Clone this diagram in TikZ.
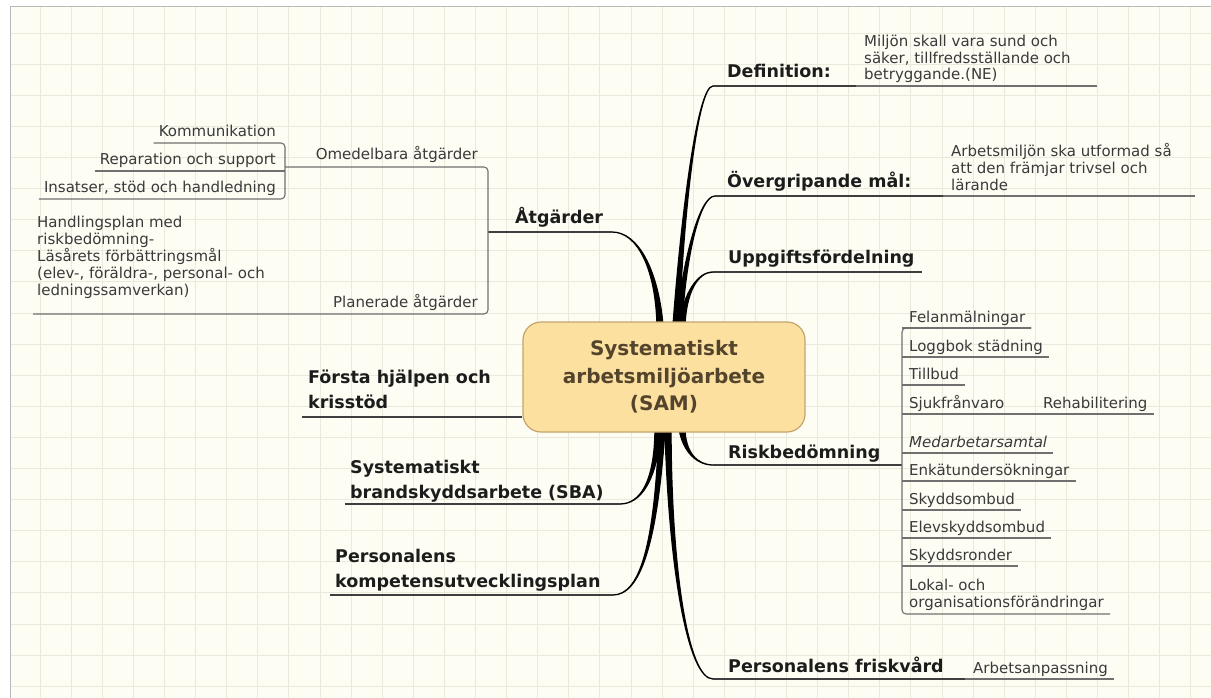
\documentclass[tikz,border=0pt]{standalone}
\usepackage{fontspec}
\setmainfont{DejaVu Sans}[ItalicFont={DejaVu Sans Oblique},BoldFont={DejaVu Sans Bold},BoldItalicFont={DejaVu Sans Bold Oblique}]
\usetikzlibrary{calc}

\definecolor{paper}{RGB}{253,253,244}
\definecolor{gridc}{RGB}{233,233,220}
\definecolor{boxfill}{RGB}{252,224,160}
\definecolor{boxline}{RGB}{196,164,108}
\definecolor{samtext}{RGB}{84,68,44}
\definecolor{inkc}{RGB}{28,28,28}
\definecolor{notec}{RGB}{58,58,58}
\definecolor{linec}{RGB}{112,112,112}

\pgfdeclarelayer{paperlayer}
\pgfdeclarelayer{stems}
\pgfsetlayers{paperlayer,stems,main}

\tikzset{
 topic/.style={font=\fontsize{17.5}{25}\selectfont\bfseries, text=inkc, inner sep=0pt, anchor=base west, align=left},
 leaf/.style={font=\fontsize{15}{16.8}\selectfont, text=notec, inner sep=0pt, anchor=base west, align=left},
 uline/.style={draw=linec, line width=1.1pt, rounded corners=4pt},
 mline/.style={draw=inkc!85, line width=1.4pt},
 limb/.style={fill=black, draw=black, line width=1.3pt, line join=round},
}

% tapered main branch: base, control 1, control 2, end
\newcommand\branchcurve[4]{%
 \filldraw[limb] ($(#1)+(-3,0)$) .. controls ($(#2)+(-1.2,0)$) and (#3) .. (#4)
   .. controls (#3) and ($(#2)+(1.2,0)$) .. ($(#1)+(3,0)$) -- cycle;}

\begin{document}
\begin{tikzpicture}[x=1pt,y=-1pt]
 \useasboundingbox (0,0) rectangle (1211,698);
 \begin{pgfonlayer}{paperlayer}
 \fill[white] (0,0) rectangle (1211,698);
 \fill[paper] (10,7) rectangle (1211,698);
 \foreach \x in {0,...,37}
 {
     \draw[gridc, line width=0.8pt] (40+31.1*\x,7) -- (40+31.1*\x,698);
 }
 \foreach \y in {0,...,21}
 {
     \draw[gridc, line width=0.8pt] (10,33+31.1*\y) -- (1211,33+31.1*\y);
 }
 \draw[gray!55, line width=1pt] (10,698) -- (10,7) -- (1211,7);
 \end{pgfonlayer}

 % centre
 \node[draw=boxline, fill=boxfill, line width=1.2pt, rounded corners=18pt, minimum width=282pt, minimum height=110pt, align=center, text=samtext, font=\fontsize{20}{27.5}\selectfont\bfseries] (sam) at (664,377) {Systematiskt\\arbetsmiljöarbete\\(SAM)};

 \coordinate (sdef) at ($(sam.north)+(12,4)$);
 \coordinate (sovr) at ($(sam.north)+(15,4)$);
 \coordinate (supp) at ($(sam.north)+(18,4)$);
 \coordinate (satg) at ($(sam.north)+(-4,4)$);
 \coordinate (srisk) at ($(sam.south)+(18,-4)$);
 \coordinate (sfrisk) at ($(sam.south)+(4,-4)$);
 \coordinate (ssba) at ($(sam.south)+(-6,-4)$);
 \coordinate (skomp) at ($(sam.south)+(-2,-4)$);

 % right side
 \coordinate (def-a) at (713,86);
 \coordinate (def-b) at (856,86);
 \node[topic] (def) at (727,78) {Definition:};
 \node[leaf] (defnote) at (864,80) {Miljön skall vara sund och\\säker, tillfredsställande och\\betryggande.(NE)};
 \coordinate (defnote-b) at (1097,86);
 \draw[mline] (def-a) -- (def-b);
 \draw[uline] (def-b) -- (defnote-b);

 \coordinate (ovr-a) at (715,196);
 \coordinate (ovr-b) at (943,196);
 \node[topic] (ovr) at (727,188) {Övergripande mål:};
 \node[leaf] (ovrnote) at (951,190) {Arbetsmiljön ska utformad så\\att den främjar trivsel och\\lärande};
 \coordinate (ovrnote-b) at (1195,196);
 \draw[mline] (ovr-a) -- (ovr-b);
 \draw[uline] (ovr-b) -- (ovrnote-b);

 \coordinate (upp-a) at (713,272);
 \node[topic] (upp) at (728,263) {Uppgiftsfördelning};
 \draw[mline] (upp-a) -- ([shift={(7,9)}]upp.base east);

 \coordinate (risk-a) at (713,465);
 \coordinate (risk-b) at (902,465);
 \node[topic] (risk) at (728,458) {Riskbedömning};
 \draw[mline] (risk-a) -- (risk-b);
 \foreach \nm/\yy/\txt in {felan/322/Felanmälningar, logg/351/Loggbok städning, till/379/Tillbud, enkat/475/Enkätundersökningar, skydd/504/Skyddsombud, elev/532/Elevskyddsombud, ronder/560/Skyddsronder}
 {
     \node[leaf] (\nm) at (909,\yy) {\txt};
     \draw[uline] ([shift={(-7,6)}]\nm.base west) -- ([shift={(6,6)}]\nm.base east);
 }
 \node[leaf] (medarb) at (909,447) {\itshape Medarbetarsamtal};
 \draw[uline] ([shift={(-7,6)}]medarb.base west) -- ([shift={(6,6)}]medarb.base east);
 \node[leaf] (sjuk) at (909,408) {Sjukfrånvaro};
 \coordinate (sjuk-b) at (1034,414);
 \node[leaf] (rehab) at (1043,408) {Rehabilitering};
 \draw[uline] ([shift={(-7,6)}]sjuk.base west) -- (sjuk-b);
 \draw[uline] (sjuk-b) -- ([shift={(6,6)}]rehab.base east);
 \node[leaf] (lokal) at (909,607) {Lokal- och\\organisationsförändringar};
 \coordinate (rtop) at (902,328);
 \coordinate (rbot) at (902,614);
 \draw[uline] ([shift={(6,6)}]felan.base east) -- (rtop) -- (rbot) -- ([shift={(6,7)}]lokal.base east);

 \coordinate (frisk-a) at (713,679);
 \coordinate (frisk-b) at (965,679);
 \node[topic] (frisk) at (728,672) {Personalens friskvård};
 \node[leaf] (arb) at (973,673) {Arbetsanpassning};
 \draw[mline] (frisk-a) -- (frisk-b);
 \draw[uline] (frisk-b) -- ([shift={(6,6)}]arb.base east);

 % left side
 \coordinate (atg-a) at (488,232);
 \coordinate (atg-b) at (612,232);
 \node[topic] (atg) at (515,223) {Åtgärder};
 \draw[mline] (atg-a) -- (atg-b);
 \coordinate (ltop) at (488,167);
 \coordinate (lbot) at (488,314);
 \coordinate (omed-l) at (285,167);
 \coordinate (plan-l) at (33,314);
 \node[leaf, anchor=base east] (omed) at (478,160) {Omedelbara åtgärder};
 \node[leaf, anchor=base east] (plan) at (478,307) {Planerade åtgärder};
 \draw[uline] (omed-l) -- (ltop) -- (lbot) -- (plan-l);
 \node[leaf] (hand) at (37,295) {Handlingsplan med\\riskbedömning-\\Läsårets förbättringsmål\\(elev-, föräldra-, personal- och\\ledningssamverkan)};

 \coordinate (otop) at (285,143);
 \coordinate (obot) at (285,199);
 \coordinate (rep-r) at (285,171);
 \node[leaf, anchor=base east] (komm) at (276,137) {Kommunikation};
 \node[leaf, anchor=base east] (rep) at (276,165) {Reparation och support};
 \node[leaf, anchor=base east] (ins) at (276,193) {Insatser, stöd och handledning};
 \draw[uline] ([shift={(-5,6)}]komm.base west) -- (otop) -- (obot) -- ([shift={(-5,6)}]ins.base west);
 \draw[uline] ([shift={(-5,6)}]rep.base west) -- (rep-r);

 \coordinate (forsta-a) at (302,417);
 \node[topic] (forsta) at (308,408) {Första hjälpen och\\krisstöd};
 \draw[mline] (forsta-a) -- (forsta-a -| sam.west);

 \coordinate (sba-a) at (345,504);
 \coordinate (sba-b) at (620,504);
 \node[topic] (sba) at (350,498) {Systematiskt\\brandskyddsarbete (SBA)};
 \draw[mline] (sba-a) -- (sba-b);

 \coordinate (komp-a) at (330,595);
 \coordinate (komp-b) at (613,595);
 \node[topic] (komp) at (335,587) {Personalens\\kompetensutvecklingsplan};
 \draw[mline] (komp-a) -- (komp-b);

 % main branches
 \begin{pgfonlayer}{stems}
 \branchcurve{sdef}{682,220}{697,86}{def-a}
 \branchcurve{sovr}{684,262}{699,196}{ovr-a}
 \branchcurve{supp}{685,292}{698,272}{upp-a}
 \branchcurve{satg}{657,270}{638,232}{atg-b}
 \branchcurve{srisk}{684,452}{697,465}{risk-a}
 \branchcurve{sfrisk}{670,570}{688,679}{frisk-a}
 \branchcurve{ssba}{656,482}{640,504}{sba-b}
 \branchcurve{skomp}{656,545}{640,595}{komp-b}
 \end{pgfonlayer}
\end{tikzpicture}
\end{document}
